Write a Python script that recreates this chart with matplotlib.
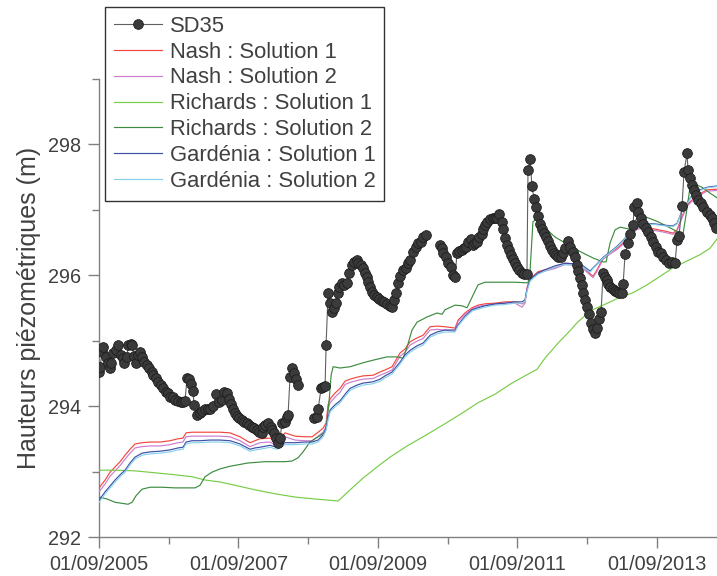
import numpy as np
import matplotlib
matplotlib.use("Agg")
import matplotlib.pyplot as plt
import matplotlib.dates as mdates
from matplotlib.ticker import FixedLocator
from datetime import datetime

plt.rcParams['font.family'] = ['Liberation Sans', 'DejaVu Sans']

# ---------------- data (decimal years, heads in m) ----------------
sd35_t = [
    2005.667, 2005.681, 2005.710, 2005.724, 2005.767, 2005.796, 2005.825, 2005.839, 2005.868, 2005.911,
    2005.939, 2005.982, 2006.011, 2006.025, 2006.068, 2006.083, 2006.126, 2006.140, 2006.169, 2006.197,
    2006.226, 2006.255, 2006.283, 2006.312, 2006.355, 2006.384, 2006.427, 2006.441, 2006.484, 2006.513,
    2006.556, 2006.585, 2006.628, 2006.656, 2006.685, 2006.728, 2006.757, 2006.800, 2006.843, 2006.871,
    2006.900, 2006.929, 2006.957, 2006.986, 2007.015, 2007.029, 2007.072, 2007.115, 2007.144, 2007.187,
    2007.230, 2007.258, 2007.301, 2007.344, 2007.387, 2007.430, 2007.459, 2007.502, 2007.531, 2007.559,
    2007.588, 2007.617, 2007.645, 2007.674, 2007.717, 2007.746, 2007.789, 2007.818, 2007.861, 2007.889,
    2007.932, 2007.961, 2008.004, 2008.018, 2008.047, 2008.090, 2008.133, 2008.147, 2008.176, 2008.205,
    2008.233, 2008.262, 2008.291, 2008.334, 2008.362, 2008.377, 2008.405, 2008.434, 2008.463, 2008.491,
    2008.520, 2008.630,
    2008.749, 2008.792, 2008.807, 2008.850, 2008.878, 2008.907, 2008.921, 2008.950, 2008.979, 2009.008,
    2009.036, 2009.065, 2009.094, 2009.108, 2009.151, 2009.180, 2009.223, 2009.251, 2009.294, 2009.323,
    2009.366, 2009.380, 2009.423, 2009.452, 2009.481, 2009.509, 2009.524, 2009.552, 2009.581, 2009.610,
    2009.653, 2009.681, 2009.724, 2009.753, 2009.796, 2009.839, 2009.868, 2009.896, 2009.925, 2009.954,
    2009.982, 2010.025, 2010.068, 2010.097, 2010.126, 2010.169, 2010.212, 2010.240, 2010.283, 2010.312,
    2010.355, 2010.450,
    2010.556, 2010.585, 2010.599, 2010.642, 2010.671, 2010.714, 2010.742, 2010.771, 2010.800, 2010.828,
    2010.871, 2010.900, 2010.929, 2010.957, 2011.000, 2011.029, 2011.058, 2011.086, 2011.115, 2011.158,
    2011.172, 2011.201, 2011.230, 2011.273, 2011.316, 2011.344, 2011.373, 2011.402, 2011.445, 2011.459,
    2011.488, 2011.516, 2011.545, 2011.574, 2011.602, 2011.631, 2011.660, 2011.689, 2011.732, 2011.760,
    2011.803, 2011.818, 2011.846, 2011.875, 2011.904, 2011.932, 2011.961, 2011.990, 2012.018, 2012.047,
    2012.076, 2012.104, 2012.133, 2012.162, 2012.190, 2012.219, 2012.248, 2012.291, 2012.319, 2012.348,
    2012.391, 2012.420, 2012.463, 2012.491, 2012.520, 2012.534, 2012.563, 2012.592, 2012.606, 2012.635,
    2012.663, 2012.692, 2012.721, 2012.749, 2012.778, 2012.807, 2012.835, 2012.864, 2012.893, 2012.921,
    2012.950, 2012.964, 2012.993, 2013.036, 2013.065, 2013.094, 2013.122, 2013.165, 2013.180, 2013.208,
    2013.251, 2013.280, 2013.323, 2013.337, 2013.380, 2013.395, 2013.438, 2013.466, 2013.509, 2013.538,
    2013.581, 2013.610, 2013.653, 2013.681, 2013.724, 2013.753, 2013.796, 2013.839, 2013.882, 2013.925,
    2013.954, 2013.982, 2014.025, 2014.054, 2014.097, 2014.111, 2014.140, 2014.169, 2014.197, 2014.226,
    2014.255, 2014.298, 2014.326, 2014.384, 2014.427, 2014.455, 2014.484, 2014.513,
]
sd35_h = [
    294.52, 294.60, 294.82, 294.90, 294.75, 294.66, 294.58, 294.66, 294.81, 294.85,
    294.93, 294.78, 294.73, 294.66, 294.75, 294.93, 294.95, 294.93, 294.76, 294.66,
    294.78, 294.82, 294.75, 294.67, 294.63, 294.58, 294.52, 294.47, 294.43, 294.37,
    294.32, 294.27, 294.21, 294.20, 294.14, 294.14, 294.09, 294.08, 294.06, 294.06,
    294.08, 294.43, 294.41, 294.34, 294.23, 294.02, 293.86, 293.89, 293.92, 293.95,
    293.95, 293.95, 294.00, 294.18, 294.06, 294.09, 294.21, 294.20, 294.11, 294.03,
    293.95, 293.89, 293.85, 293.82, 293.79, 293.76, 293.74, 293.71, 293.68, 293.66,
    293.63, 293.60, 293.59, 293.68, 293.71, 293.74, 293.68, 293.63, 293.59, 293.51,
    293.44, 293.51, 293.74, 293.76, 293.83, 293.86, 294.44, 294.58, 294.50, 294.41,
    294.32, np.nan,
    293.82, 293.83, 293.95, 294.27, 294.29, 294.31, 294.93, 295.73, 295.57, 295.44,
    295.50, 295.57, 295.73, 295.82, 295.88, 295.85, 295.88, 296.03, 296.15, 296.20,
    296.23, 296.18, 296.15, 296.11, 296.03, 295.97, 295.89, 295.82, 295.74, 295.69,
    295.66, 295.63, 295.60, 295.59, 295.56, 295.53, 295.51, 295.62, 295.73, 295.88,
    295.98, 296.08, 296.11, 296.18, 296.23, 296.35, 296.43, 296.49, 296.50, 296.58,
    296.61, np.nan,
    296.46, 296.41, 296.34, 296.27, 296.18, 296.12, 296.00, 295.97, 296.34, 296.37,
    296.38, 296.41, 296.43, 296.50, 296.55, 296.46, 296.49, 296.50, 296.58, 296.63,
    296.70, 296.76, 296.81, 296.85, 296.87, 296.87, 296.87, 296.93, 296.81, 296.70,
    296.56, 296.46, 296.38, 296.31, 296.24, 296.18, 296.12, 296.08, 296.03, 296.02,
    296.02, 297.60, 297.77, 297.36, 297.16, 297.04, 296.90, 296.78, 296.70, 296.64,
    296.58, 296.52, 296.44, 296.38, 296.34, 296.31, 296.27, 296.27, 296.34, 296.41,
    296.52, 296.43, 296.35, 296.27, 296.15, 296.06, 295.95, 295.85, 295.73, 295.62,
    295.51, 295.40, 295.27, 295.18, 295.11, 295.19, 295.33, 295.44, 296.03, 295.97,
    295.92, 295.86, 295.82, 295.79, 295.76, 295.74, 295.73, 295.73, 295.86, 296.32,
    296.49, 296.63, 296.76, 297.04, 297.10, 296.96, 296.87, 296.78, 296.72, 296.66,
    296.58, 296.50, 296.43, 296.35, 296.34, 296.27, 296.23, 296.18, 296.20, 296.18,
    296.53, 296.60, 297.05, 297.57, 297.86, 297.60, 297.48, 297.37, 297.30, 297.22,
    297.15, 297.10, 297.04, 296.96, 296.92, 296.87, 296.79, 296.72,
]

# Nash / Gardenia simulations share one time base
sim_t = [
    2005.667, 2005.753, 2005.825, 2005.896, 2005.968, 2006.040, 2006.111, 2006.183, 2006.283, 2006.398,
    2006.542, 2006.685, 2006.800, 2006.871, 2006.914, 2007.000, 2007.115, 2007.258, 2007.402, 2007.545,
    2007.689, 2007.832, 2007.904, 2007.975, 2008.119, 2008.219, 2008.334, 2008.477, 2008.620, 2008.721,
    2008.807, 2008.878, 2008.921, 2008.950, 2008.979, 2009.051, 2009.122, 2009.194, 2009.266, 2009.366,
    2009.452, 2009.595, 2009.696, 2009.767, 2009.868, 2009.982, 2010.054, 2010.126, 2010.226, 2010.312,
    2010.413, 2010.513, 2010.628, 2010.771, 2010.814, 2010.914, 2011.015, 2011.101, 2011.201, 2011.344,
    2011.488, 2011.631, 2011.732, 2011.775, 2011.803, 2011.846, 2011.889, 2011.961, 2012.061, 2012.205,
    2012.348, 2012.491, 2012.606, 2012.706, 2012.749, 2012.807, 2012.893, 2012.993, 2013.094, 2013.180,
    2013.280, 2013.380, 2013.495, 2013.638, 2013.782, 2013.896, 2013.954, 2014.025, 2014.097, 2014.183,
    2014.283, 2014.384, 2014.527,
]
nash1 = [
    292.75, 292.87, 292.99, 293.07, 293.15, 293.25, 293.34, 293.42, 293.44, 293.45,
    293.45, 293.47, 293.50, 293.51, 293.59, 293.60, 293.60, 293.60, 293.60, 293.59,
    293.53, 293.44, 293.47, 293.50, 293.51, 293.45, 293.59, 293.54, 293.53, 293.53,
    293.60, 293.66, 293.74, 294.02, 294.11, 294.20, 294.27, 294.38, 294.41, 294.44,
    294.46, 294.47, 294.52, 294.55, 294.60, 294.81, 294.87, 294.98, 295.04, 295.08,
    295.21, 295.22, 295.21, 295.19, 295.31, 295.42, 295.50, 295.54, 295.56, 295.57,
    295.59, 295.59, 295.56, 295.59, 295.80, 295.95, 295.98, 296.05, 296.08, 296.12,
    296.18, 296.17, 296.12, 296.02, 295.98, 296.08, 296.26, 296.34, 296.41, 296.49,
    296.61, 296.72, 296.73, 296.70, 296.67, 296.64, 296.69, 296.89, 297.07, 297.16,
    297.24, 297.30, 297.31,
]
nash2 = [
    292.69, 292.81, 292.93, 293.01, 293.09, 293.19, 293.28, 293.36, 293.38, 293.39,
    293.39, 293.41, 293.44, 293.45, 293.53, 293.54, 293.54, 293.54, 293.54, 293.53,
    293.47, 293.38, 293.41, 293.44, 293.45, 293.39, 293.53, 293.48, 293.47, 293.47,
    293.54, 293.60, 293.68, 293.96, 294.05, 294.14, 294.21, 294.33, 294.36, 294.39,
    294.41, 294.42, 294.47, 294.50, 294.55, 294.76, 294.82, 294.93, 294.99, 295.03,
    295.16, 295.17, 295.16, 295.14, 295.29, 295.40, 295.48, 295.52, 295.54, 295.55,
    295.57, 295.57, 295.51, 295.57, 295.78, 295.93, 295.96, 296.03, 296.06, 296.10,
    296.16, 296.15, 296.10, 296.00, 295.96, 296.06, 296.24, 296.32, 296.39, 296.47,
    296.59, 296.70, 296.71, 296.68, 296.65, 296.62, 296.67, 296.87, 297.05, 297.14,
    297.22, 297.28, 297.29,
]
gard1 = [
    292.56, 292.69, 292.78, 292.87, 292.95, 293.02, 293.13, 293.22, 293.28, 293.30,
    293.31, 293.33, 293.36, 293.37, 293.45, 293.47, 293.47, 293.48, 293.48, 293.47,
    293.42, 293.34, 293.36, 293.37, 293.40, 293.37, 293.44, 293.44, 293.45, 293.45,
    293.48, 293.56, 293.66, 293.82, 293.94, 294.02, 294.08, 294.18, 294.27, 294.32,
    294.35, 294.37, 294.41, 294.46, 294.52, 294.67, 294.78, 294.85, 294.92, 294.96,
    295.08, 295.13, 295.16, 295.16, 295.24, 295.37, 295.47, 295.50, 295.53, 295.56,
    295.57, 295.59, 295.59, 295.62, 295.77, 295.92, 295.97, 296.03, 296.08, 296.14,
    296.18, 296.17, 296.14, 296.06, 296.11, 296.17, 296.27, 296.35, 296.44, 296.53,
    296.66, 296.73, 296.79, 296.78, 296.76, 296.75, 296.79, 296.98, 297.10, 297.24,
    297.30, 297.34, 297.36,
]
gard2 = [
    292.53, 292.66, 292.75, 292.84, 292.92, 292.99, 293.10, 293.19, 293.25, 293.27,
    293.28, 293.30, 293.33, 293.34, 293.42, 293.44, 293.44, 293.45, 293.45, 293.44,
    293.39, 293.31, 293.33, 293.34, 293.37, 293.34, 293.41, 293.41, 293.42, 293.42,
    293.45, 293.53, 293.63, 293.79, 293.91, 293.99, 294.05, 294.15, 294.24, 294.29,
    294.32, 294.34, 294.38, 294.43, 294.49, 294.64, 294.75, 294.82, 294.89, 294.93,
    295.05, 295.10, 295.13, 295.13, 295.22, 295.35, 295.45, 295.48, 295.51, 295.54,
    295.55, 295.57, 295.57, 295.60, 295.75, 295.90, 295.95, 296.01, 296.06, 296.12,
    296.16, 296.15, 296.12, 296.04, 296.10, 296.16, 296.26, 296.34, 296.43, 296.52,
    296.65, 296.72, 296.78, 296.77, 296.75, 296.74, 296.78, 296.97, 297.09, 297.23,
    297.29, 297.33, 297.35,
]

rich2_t = [
    2005.667, 2005.782, 2005.896, 2006.083, 2006.140, 2006.197, 2006.283, 2006.398, 2006.570, 2006.757,
    2007.043, 2007.115, 2007.187, 2007.287, 2007.402, 2007.545, 2007.803, 2008.047, 2008.334, 2008.434,
    2008.520, 2008.592, 2008.692, 2008.807, 2008.907, 2008.936, 2008.965, 2008.993, 2009.022, 2009.122,
    2009.266, 2009.452, 2009.595, 2009.796, 2009.939, 2010.025, 2010.083, 2010.154, 2010.226, 2010.370,
    2010.513, 2010.585, 2010.628, 2010.771, 2010.871, 2010.943, 2011.015, 2011.101, 2011.201, 2011.387,
    2011.631, 2011.818, 2011.846, 2011.861, 2011.889, 2011.947, 2012.061, 2012.205, 2012.348, 2012.491,
    2012.635, 2012.749, 2012.893, 2012.936, 2012.993, 2013.065, 2013.137, 2013.280, 2013.380, 2013.495,
    2013.667, 2013.854, 2013.997, 2014.040, 2014.083, 2014.140, 2014.183, 2014.312, 2014.427, 2014.527,
]
rich2 = [
    292.61, 292.58, 292.53, 292.50, 292.53, 292.63, 292.73, 292.76, 292.76, 292.75,
    292.75, 292.79, 292.92, 292.99, 293.04, 293.08, 293.13, 293.15, 293.15, 293.16,
    293.21, 293.30, 293.45, 293.53, 293.60, 293.79, 294.09, 294.47, 294.60, 294.58,
    294.60, 294.66, 294.70, 294.75, 294.75, 294.73, 294.90, 295.16, 295.28, 295.36,
    295.42, 295.40, 295.47, 295.54, 295.53, 295.50, 295.66, 295.85, 295.89, 295.89,
    295.89, 295.88, 296.03, 296.31, 296.81, 296.87, 296.72, 296.58, 296.49, 296.40,
    296.32, 296.26, 296.20, 296.20, 296.49, 296.69, 296.73, 296.70, 296.87, 296.89,
    296.82, 296.72, 296.64, 296.63, 296.92, 297.34, 297.40, 297.34, 297.25, 297.18,
]

rich1_t = [
    2005.667, 2005.896, 2006.183, 2006.470, 2006.757, 2007.000, 2007.187, 2007.402, 2007.617, 2007.904,
    2008.190, 2008.477, 2008.764, 2009.094, 2009.266, 2009.452, 2009.653, 2009.839, 2010.083, 2010.312,
    2010.456, 2010.628, 2010.871, 2011.101, 2011.344, 2011.588, 2011.775, 2011.947, 2012.061, 2012.248,
    2012.420, 2012.520, 2012.706, 2012.893, 2013.137, 2013.323, 2013.524, 2013.710, 2013.896, 2014.068,
    2014.283, 2014.427, 2014.527,
]
rich1 = [
    293.02, 293.02, 293.01, 292.98, 292.95, 292.92, 292.87, 292.84, 292.79, 292.72,
    292.66, 292.61, 292.58, 292.55, 292.72, 292.90, 293.07, 293.22, 293.39, 293.53,
    293.62, 293.73, 293.89, 294.05, 294.18, 294.35, 294.46, 294.56, 294.73, 294.96,
    295.15, 295.27, 295.45, 295.54, 295.66, 295.73, 295.85, 295.98, 296.11, 296.20,
    296.31, 296.41, 296.55,
]

labels = ["SD35", "Nash : Solution 1", "Nash : Solution 2", "Richards : Solution 1",
          "Richards : Solution 2", "Gardénia : Solution 1", "Gardénia : Solution 2"]
y_ticks = [292, 294, 296, 298]
y_minor = [293, 295, 297, 299]
x_major = ["2005-09-01", "2007-09-01", "2009-09-01", "2011-09-01", "2013-09-01"]
x_minor = ["2006-09-01", "2008-09-01", "2010-09-01", "2012-09-01"]


def to_date(t):
    y = int(t)
    a = datetime(y, 1, 1)
    b = datetime(y + 1, 1, 1)
    return a + (b - a) * (t - y)


def dates(ts):
    return [to_date(t) for t in ts]


TXT = '#404040'
AX = '#808080'

fig = plt.figure(figsize=(7.17, 5.76), dpi=100)
ax = fig.add_axes([0.1381, 0.0677, 0.8619, 0.7960])

lw = 0.85
h_n1, = ax.plot(dates(sim_t), nash1, color='#f2473f', lw=lw, zorder=3)
h_n2, = ax.plot(dates(sim_t), nash2, color='#cc7ccc', lw=lw, zorder=3)
h_r1, = ax.plot(dates(rich1_t), rich1, color='#78cc48', lw=lw, zorder=3)
h_r2, = ax.plot(dates(rich2_t), rich2, color='#3d8c40', lw=lw, zorder=3)
h_g1, = ax.plot(dates(sim_t), gard1, color='#3c4ea6', lw=lw, zorder=3)
h_g2, = ax.plot(dates(sim_t), gard2, color='#86d2ea', lw=lw, zorder=3)
h_sd, = ax.plot(dates(sd35_t), sd35_h, color='#606060', lw=0.8,
                marker='o', markersize=7.0, markerfacecolor='#3b3b3b',
                markeredgecolor='#1e1e1e', markeredgewidth=0.6, zorder=4)

ax.set_xlim(datetime(2005, 9, 1), to_date(2014.527))
ax.set_ylim(292, 299)

ax.yaxis.set_major_locator(FixedLocator(y_ticks))
ax.yaxis.set_minor_locator(FixedLocator(y_minor))
ax.xaxis.set_major_locator(FixedLocator([mdates.date2num(datetime.fromisoformat(d)) for d in x_major]))
ax.xaxis.set_minor_locator(FixedLocator([mdates.date2num(datetime.fromisoformat(d)) for d in x_minor]))
ax.xaxis.set_major_formatter(mdates.DateFormatter('%d/%m/%Y'))

for s in ['top', 'right']:
    ax.spines[s].set_visible(False)
for s in ['left', 'bottom']:
    ax.spines[s].set_color(AX)
    ax.spines[s].set_linewidth(1.0)

ax.tick_params(which='major', length=8, width=1.0, color=AX, labelsize=14.3,
               labelcolor=TXT, direction='out', pad=5)
ax.tick_params(which='minor', length=5, width=1.0, color=AX, direction='out')

ax.set_ylabel("Hauteurs piézométriques (m)", fontsize=18, color=TXT, labelpad=5)

leg = ax.legend([h_sd, h_n1, h_n2, h_r1, h_r2, h_g1, h_g2], labels,
                loc='upper left', bbox_to_anchor=(105 / 717, 1 - 7 / 576),
                bbox_transform=fig.transFigure, borderaxespad=0,
                fontsize=15.8, frameon=True, fancybox=False, framealpha=1,
                edgecolor='#333333', handlelength=2.2, handletextpad=0.35,
                labelspacing=0.22, borderpad=0.4)
leg.get_frame().set_linewidth(1.0)
for t in leg.get_texts():
    t.set_color(TXT)
leg.set_zorder(10)

fig.savefig("out.png", dpi=100)
